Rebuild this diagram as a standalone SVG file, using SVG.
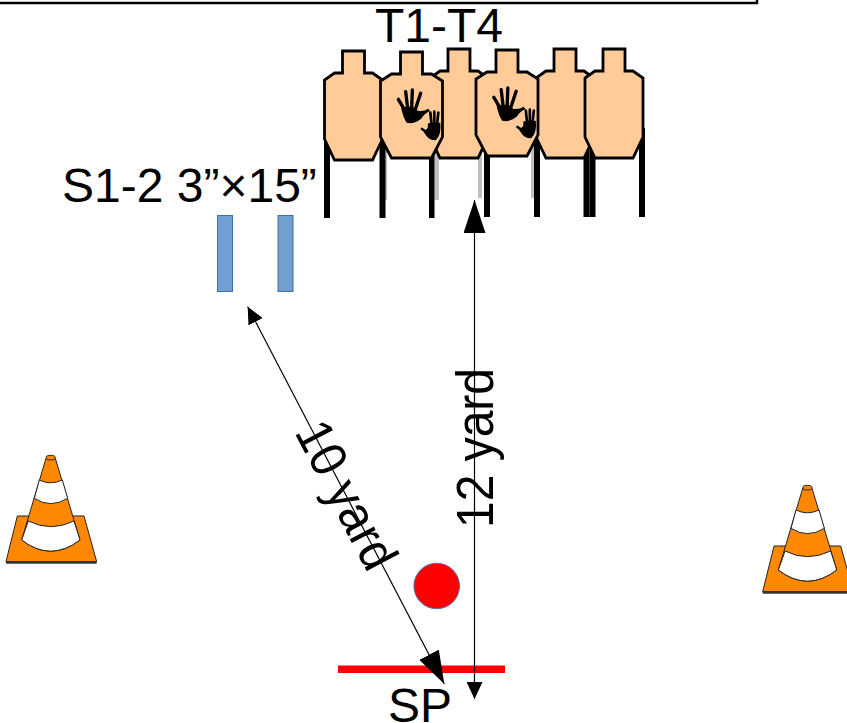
<svg xmlns="http://www.w3.org/2000/svg" width="847" height="723" viewBox="0 0 847 723">
<style>
text{font-family:"Liberation Sans",Arial,sans-serif;font-size:48px;fill:#000}
.t{fill:#ffcc99;stroke:#000;stroke-width:2.8;stroke-linejoin:miter}
.leg{fill:#000}.gray{fill:#bfbfbf}
.conn{stroke:#000;stroke-width:1.2;fill:none}
.lane{fill:#729fcf;stroke:#3f6fa8;stroke-width:1}
.o{fill:#ff8800;stroke:#222;stroke-width:3}
.w{fill:#fff;stroke:#222;stroke-width:3}
</style>
<defs>
<marker id="big" markerUnits="userSpaceOnUse" markerWidth="34" markerHeight="22" refX="33" refY="11" orient="auto-start-reverse"><path d="M0,0L33,11L0,22Z" fill="#000"/></marker>
<marker id="small" markerUnits="userSpaceOnUse" markerWidth="18" markerHeight="16" refX="17" refY="8" orient="auto-start-reverse"><path d="M0,0L17,8L0,16Z" fill="#000"/></marker>
<path id="tw" d="M-11,0H11V22H20L31,29V85L20,106H-20L-31,85V29L-20,22H-11Z"/>
<path id="tn" d="M-11,0H11V22H19L29,29V88L19,109H-19L-29,88V29L-19,22H-11Z"/>
<g id="hands" transform="scale(.3333)">
<g stroke="#000" stroke-width="10" stroke-linecap="round" fill="none">
<path d="M70,88L92,125M92,65L98,115M112,60L110,115M137,70L122,115"/>
<path stroke-width="8" d="M166,128L170,165M178,125L178,165M190,128L186,165M141,177L160,190"/>
</g>
<path d="M78,112Q120,105 128,122Q145,125 160,116L165,124Q150,128 140,145Q120,164 95,158Q85,145 78,112Z"/>
<path d="M159,160L196,158Q200,195 182,211Q165,212 155,199L146,186L158,174Z"/>
</g>
<g id="cone" transform="scale(.3333)">
<path class="o" d="M52,213H252L290,350H18Z" stroke-width="4"/>
<path d="M18,352H290" stroke="#333" stroke-width="8" fill="none"/>
<path class="o" d="M138,40L65,285Q152,352 240,285L166,40Z"/>
<path class="w" d="M118,105Q152,122 187,105L203,160Q152,192 103,160Z"/>
<path class="w" d="M85,228Q152,262 222,228L240,285Q152,352 65,285Z"/>
<ellipse class="o" cx="152" cy="38" rx="14" ry="7"/>
</g>
</defs>
<g id="frame"><path d="M0,3H757V0" fill="none" stroke="#000" stroke-width="2.4"/></g>
<g id="targets">
<g id="legs">
<rect class="gray" x="383" y="140" width="4" height="60"/><rect class="gray" x="434.500" y="140" width="4.500" height="60"/><rect class="gray" x="478" y="140" width="4" height="58"/><rect class="gray" x="531" y="140" width="4" height="58"/>
<rect class="leg" x="324" y="140" width="6" height="78"/><rect class="leg" x="379.500" y="140" width="6" height="78"/><rect class="leg" x="429" y="140" width="5.500" height="78"/><rect class="leg" x="484" y="140" width="6" height="77"/><rect class="leg" x="534" y="140" width="6" height="77"/><rect class="leg" x="583.500" y="140" width="6" height="77"/><rect class="leg" x="589.500" y="140" width="6" height="77"/><rect class="leg" x="639" y="128" width="6" height="89"/>
</g>
<g id="T1"><use href="#tn" class="t" x="353.500" y="51"/></g>
<g id="T3"><use href="#tn" class="t" x="459" y="49"/></g>
<g id="T5"><use href="#tn" class="t" x="565" y="49"/></g>
<g id="T6"><use href="#tn" class="t" x="614" y="49"/></g>
<g id="T2"><use href="#tw" class="t" x="411.500" y="52"/><use href="#hands" x="375" y="70"/></g>
<g id="T4"><use href="#tw" class="t" x="507" y="50"/><use href="#hands" x="470.500" y="68"/></g>
<text id="targets-label" x="375" y="42">T1-T4</text>
</g>
<g id="S1-2">
<rect class="lane" x="217.500" y="215.500" width="15" height="76"/>
<rect class="lane" x="278" y="215.500" width="15" height="76"/>
<text x="62" y="202">S1-2 3”×15”</text>
</g>
<g id="cone-left"><use href="#cone" x="0" y="445"/></g>
<g id="cone-right"><use href="#cone" x="756.700" y="475"/></g>
<g id="start">
<circle cx="436.700" cy="586" r="22.800" fill="#f00" stroke="#4a76ad" stroke-width="1"/>
<rect x="338" y="665.500" width="167" height="7.500" fill="#f00"/>
<text x="388" y="722">SP</text>
</g>
<g id="connectors">
<path class="conn" d="M247.700,306.700L444.300,684" marker-start="url(#small)" marker-end="url(#big)"/>
<path class="conn" d="M474.500,200V699" marker-start="url(#big)" marker-end="url(#small)"/>
</g>
<text id="l10" transform="translate(331,503) rotate(62.500) scale(1,1.070)" text-anchor="middle">10 yard</text>
<text id="l12" transform="translate(492.500,448) rotate(-90) scale(1,1.070)" text-anchor="middle">12 yard</text>
</svg>
